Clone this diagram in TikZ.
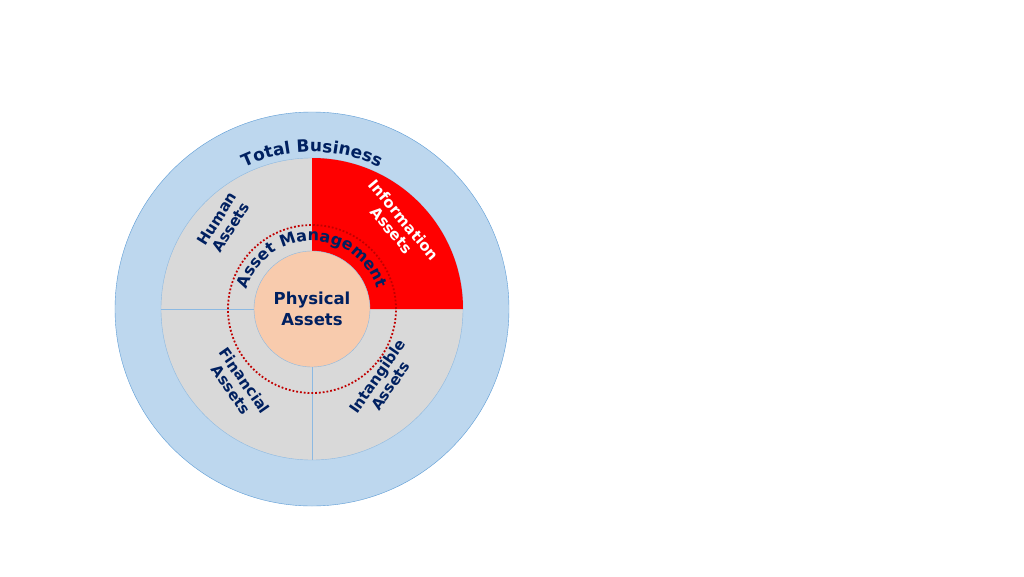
\documentclass[tikz,border=0pt]{standalone}
\usepackage{fontspec}
\setmainfont{DejaVu Sans}
\usetikzlibrary{decorations.text}
\definecolor{navy}{RGB}{0,32,96}
\definecolor{outerblue}{RGB}{189,215,238}
\definecolor{edge}{RGB}{91,155,213}
\definecolor{sectgray}{RGB}{217,217,217}
\definecolor{peach}{RGB}{248,203,173}
\definecolor{dotred}{RGB}{192,0,0}
\tikzset{lab/.style={font=\bfseries\fontsize{15}{16}\selectfont,text=navy,align=center}}
\begin{document}
\begin{tikzpicture}[x=1pt,y=1pt]
\useasboundingbox (-312,-267) rectangle (712,309);
\fill[white] (-312,-267) rectangle (712,309);
\node[circle,draw=edge,fill=outerblue,minimum size=394pt,inner sep=0] (outer) at (0,0) {};
\node[circle,draw=edge!70,fill=sectgray,minimum size=302pt,inner sep=0] (mid) at (0,0) {};
\fill[red] (0,58) -- (0,151) arc[start angle=90,end angle=0,radius=151] -- (58,0) arc[start angle=0,end angle=90,radius=58] -- cycle;
\coordinate (l1) at (-151,0); \coordinate (l2) at (-58,0);
\coordinate (b1) at (0,-151); \coordinate (b2) at (0,-58);
\draw[edge!70] (l1) -- (l2); \draw[edge!70] (b1) -- (b2);
\draw[dotred,line width=1.8pt,dotted] (0,0) circle[radius=84];
\node[circle,draw=edge!70,fill=peach,minimum size=116pt,inner sep=0,font=\bfseries\fontsize{16.5}{21}\selectfont,text=navy,align=center] (phys) at (0,0) {Physical\\Assets};
\path[decorate,decoration={text along path,text align=center,text={|\bfseries\fontsize{17}{19}\selectfont\color{navy}|Total Business}}] (160:157) arc[start angle=160,end angle=20,radius=157];
\path[decorate,decoration={text along path,text align=center,text={|\bfseries\fontsize{16}{18}\selectfont\color{navy}|Asset Management}}] (200:68) arc[start angle=200,end angle=-20,radius=68];
\node[lab,rotate=58] (human) at (-88,86) {Human\\Assets};
\node[lab,rotate=-50,text=white] (info) at (86,84) {Information\\Assets};
\node[lab,rotate=-55] (fin) at (-74,-76) {Financial\\Assets};
\node[lab,rotate=55] (intang) at (72,-72) {Intangible\\Assets};
\end{tikzpicture}
\end{document}
